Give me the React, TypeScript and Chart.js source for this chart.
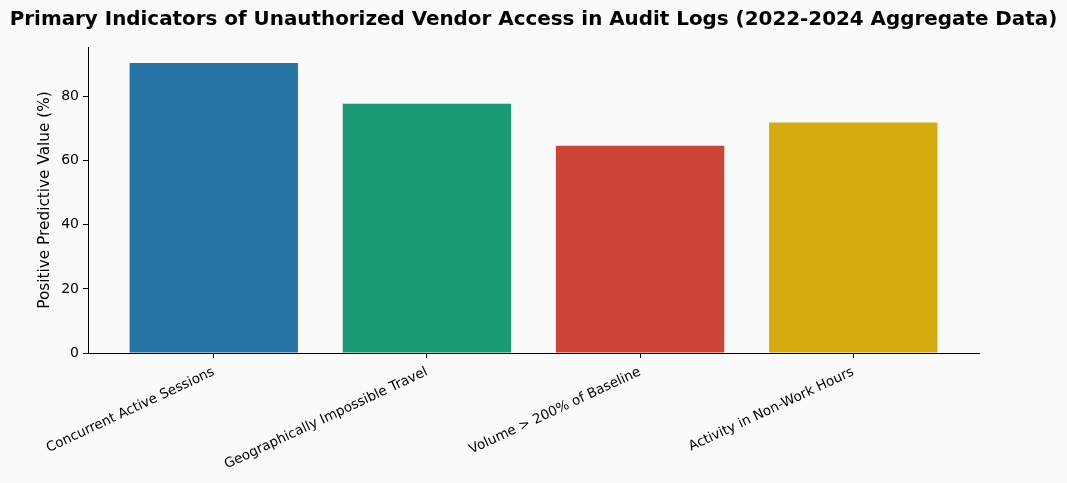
import React, { useEffect, useRef } from "react";
import { Chart, registerables } from "chart.js";

Chart.register(...registerables);

const categories = [
  "Concurrent Active Sessions",
  "Geographically Impossible Travel",
  "Volume > 200% of Baseline",
  "Activity in Non-Work Hours",
];
const ppvValues = [90.5, 77.8, 64.7, 71.9];
const barColors = ["#2874A6", "#1B9A76", "#CB4435", "#D4AC10"];
const yTicks = [0, 20, 40, 60, 80];
const titleText =
  "Primary Indicators of Unauthorized Vendor Access in Audit Logs (2022-2024 Aggregate Data)";
const yAxisTitle = "Positive Predictive Value (%)";

const FONT = "'DejaVu Sans', sans-serif";

export default function App() {
  const ref = useRef<HTMLCanvasElement | null>(null);

  useEffect(() => {
    document.body.style.margin = "0";
    document.body.style.background = "#FAFAFA";
    const canvas = ref.current;
    if (!canvas) return;

    const bgPlugin = {
      id: "bg",
      beforeDraw(chart: any) {
        const ctx = chart.ctx;
        ctx.save();
        ctx.fillStyle = "#FAFAFA";
        ctx.fillRect(0, 0, chart.width, chart.height);
        ctx.restore();
      },
    };

    const titlePlugin = {
      id: "mainTitle",
      afterDraw(chart: any) {
        const ctx = chart.ctx;
        ctx.save();
        ctx.fillStyle = "#000";
        ctx.font = `bold 19.9px ${FONT}`;
        ctx.textAlign = "center";
        ctx.textBaseline = "middle";
        ctx.fillText(titleText, chart.width / 2, 20);
        ctx.restore();
      },
    };

    const chart = new Chart(canvas, {
      type: "bar",
      data: {
        datasets: [
          {
            data: ppvValues.map((v, i) => ({ x: i, y: v })),
            backgroundColor: barColors,
            borderWidth: 0,
            barPercentage: 0.79,
            categoryPercentage: 1,
          },
        ],
      },
      options: {
        animation: false,
        responsive: false,
        devicePixelRatio: 1,
        layout: { padding: { left: 0, right: 88, top: 47, bottom: 0 } },
        plugins: {
          legend: { display: false },
          tooltip: { enabled: false },
          title: { display: false },
        },
        scales: {
          x: {
            type: "linear",
            min: -0.59,
            max: 3.59,
            offset: false,
            afterBuildTicks(scale: any) {
              scale.ticks = categories.map((_, i) => ({ value: i }));
            },
            afterFit(scale: any) {
              scale.height = 130;
              scale.paddingLeft = 0;
              scale.paddingRight = 0;
            },
            ticks: {
              autoSkip: false,
              minRotation: 25,
              maxRotation: 25,
              color: "#000",
              padding: 6,
              font: { family: FONT, size: 13.5 },
              callback: (v: any) => categories[Math.round(Number(v))] ?? "",
            },
            grid: {
              offset: false,
              drawOnChartArea: false,
              drawTicks: true,
              tickLength: 5,
              color: "#000",
              lineWidth: 1,
            },
            border: { display: true, color: "#000", width: 1 },
          },
          y: {
            min: 0,
            max: 95.5,
            afterBuildTicks(scale: any) {
              scale.ticks = yTicks.map((v) => ({ value: v }));
            },
            afterFit(scale: any) {
              scale.width = 88;
              scale.paddingTop = 0;
              scale.paddingBottom = 0;
            },
            ticks: {
              color: "#000",
              padding: 4,
              font: { family: FONT, size: 14 },
            },
            title: {
              display: true,
              text: yAxisTitle,
              color: "#000",
              font: { family: FONT, size: 15.3 },
              padding: { top: 36, bottom: 6 },
            },
            grid: {
              drawOnChartArea: false,
              drawTicks: true,
              tickLength: 5,
              color: "#000",
              lineWidth: 1,
            },
            border: { display: true, color: "#000", width: 1 },
          },
        },
      },
      plugins: [bgPlugin, titlePlugin],
    });

    return () => chart.destroy();
  }, []);

  return (
    <div style={{ width: 1067, height: 483, background: "#FAFAFA" }}>
      <canvas ref={ref} width={1067} height={483} style={{ display: "block" }} />
    </div>
  );
}
